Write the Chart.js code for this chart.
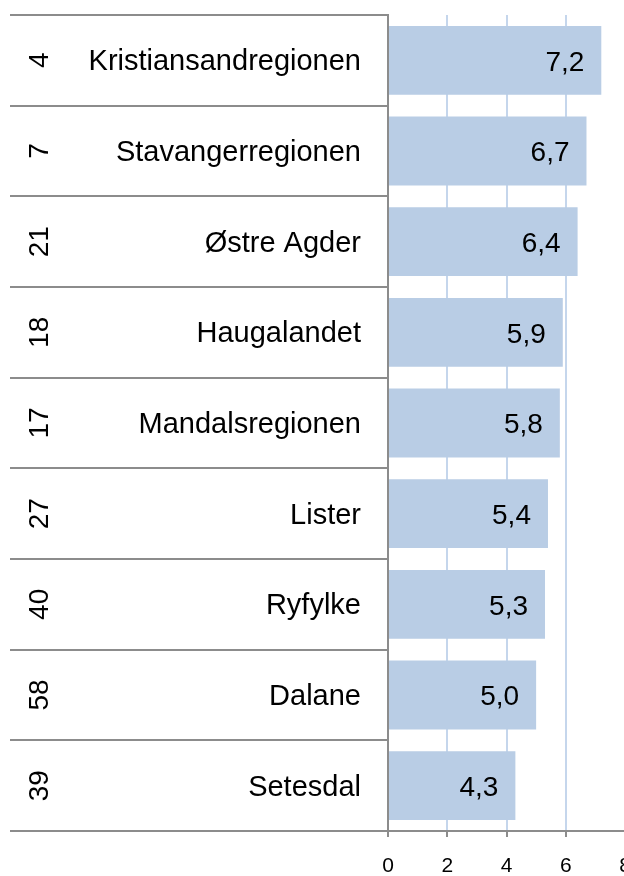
<!DOCTYPE html>
<html>
<head>
<meta charset="utf-8">
<script src="https://cdn.jsdelivr.net/npm/chart.js@4"></script>
<style>
    html, body { margin: 0; padding: 0; background: #fff; overflow: hidden; }
    #wrap { width: 660px; height: 876px; position: relative; }
</style>
</head>
<body>
<div id="wrap"><canvas id="chart"></canvas></div>
<script>
const regions = ['Kristiansandregionen', 'Stavangerregionen', 'Østre Agder', 'Haugalandet', 'Mandalsregionen', 'Lister', 'Ryfylke', 'Dalane', 'Setesdal'];
const ranks = ['4', '7', '21', '18', '17', '27', '40', '58', '39'];
const values = [7.2, 6.7, 6.4, 5.9, 5.8, 5.4, 5.3, 5.0, 4.3];
const xMin = 0;
const xMax = 8;
const xStep = 2;

const FONT = '"Liberation Sans", Arial, sans-serif';
const LINE_GREY = '#8c8c8c';

function formatValue(v) {
    return v.toFixed(1).replace('.', ',');
}

// rank numbers (rotated) in the left column + value labels inside the bars
const tableCells = {
    id: 'tableCells',
    afterDatasetsDraw(chart) {
        const ctx = chart.ctx;
        const yScale = chart.scales.y;
        const meta = chart.getDatasetMeta(0);
        ctx.save();
        ctx.fillStyle = '#000';
        ctx.textBaseline = 'middle';

        ctx.font = '28px ' + FONT;
        ranks.forEach((r, i) => {
            const py = yScale.getPixelForValue(i);
            ctx.save();
            ctx.translate(39, py);
            ctx.rotate(-Math.PI / 2);
            ctx.textAlign = 'center';
            ctx.fillText(r, 0, 1);
            ctx.restore();
        });

        ctx.font = '28px ' + FONT;
        ctx.textAlign = 'right';
        meta.data.forEach((bar, i) => {
            ctx.fillText(formatValue(values[i]), bar.x - 17, bar.y + 2.5);
        });
        ctx.restore();
    }
};

new Chart(document.getElementById('chart'), {
    type: 'bar',
    data: {
        labels: regions,
        datasets: [{
            data: values,
            backgroundColor: '#b9cde5',
            borderWidth: 0,
            barPercentage: 0.76,
            categoryPercentage: 1
        }]
    },
    options: {
        indexAxis: 'y',
        responsive: true,
        maintainAspectRatio: false,
        animation: false,
        layout: { padding: { top: 15, right: 35, left: 0, bottom: 0 } },
        plugins: {
            legend: { display: false },
            tooltip: { enabled: false }
        },
        scales: {
            x: {
                min: xMin,
                max: xMax,
                ticks: { stepSize: xStep, padding: 17, color: '#000', maxRotation: 0, font: { family: FONT, size: 21 } },
                grid: { color: '#c5d6ec', lineWidth: 2, tickColor: LINE_GREY, tickLength: 6 },
                border: { color: LINE_GREY, width: 2 },
                afterFit(scale) { scale.height = 45; }
            },
            y: {
                offset: true,
                grid: { offset: true, drawOnChartArea: false, drawTicks: true, tickLength: 378, color: LINE_GREY, lineWidth: 2 },
                border: { color: LINE_GREY, width: 2 },
                ticks: { padding: -351, labelOffset: 2, color: '#000', font: { family: FONT, size: 29 } },
                afterFit(scale) { scale.width = 388; }
            }
        }
    },
    plugins: [tableCells]
});
</script>
</body>
</html>
